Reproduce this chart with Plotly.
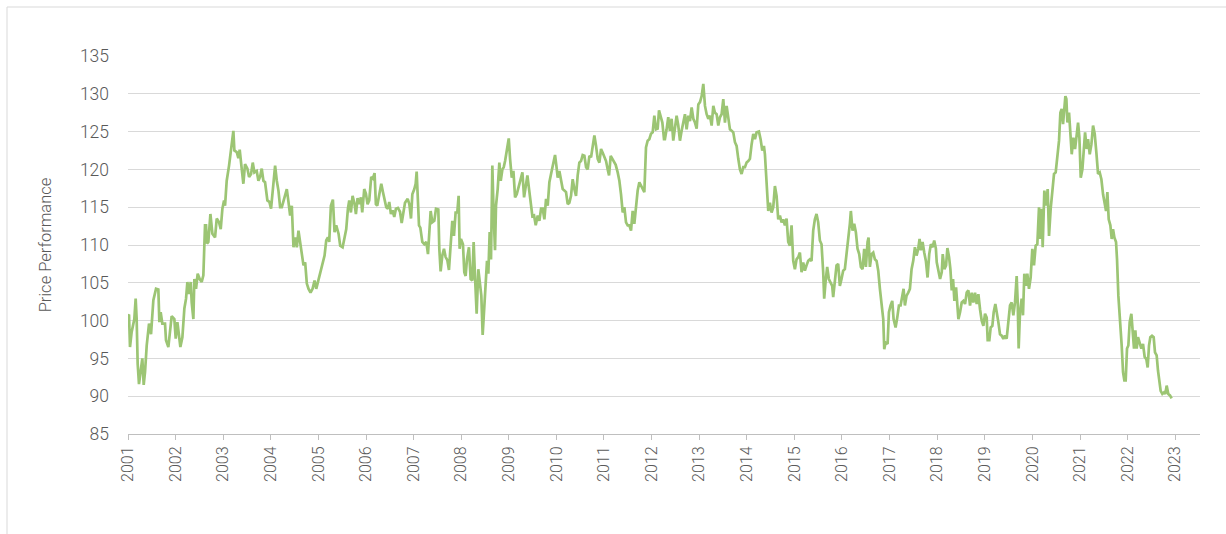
import datetime as dt
import plotly.graph_objects as go

# ---- data (decimal year, price performance) ----
years_a = [2001.000, 2001.021, 2001.042, 2001.077, 2001.133, 2001.161, 2001.182, 2001.203, 2001.231, 2001.266,
           2001.301, 2001.330, 2001.358, 2001.393, 2001.442, 2001.484, 2001.533, 2001.589, 2001.638, 2001.659,
           2001.687, 2001.722, 2001.778, 2001.799, 2001.848, 2001.918, 2001.974, 2002.003, 2002.038, 2002.073,
           2002.101, 2002.143, 2002.185, 2002.220, 2002.248, 2002.283, 2002.318, 2002.339, 2002.374, 2002.395,
           2002.430, 2002.465, 2002.507, 2002.549, 2002.584, 2002.619, 2002.640, 2002.661, 2002.689, 2002.732,
           2002.774, 2002.830, 2002.865, 2002.914, 2002.949, 2002.984, 2003.019, 2003.040, 2003.075, 2003.124,
           2003.166, 2003.215, 2003.236, 2003.285, 2003.320, 2003.348, 2003.390, 2003.425, 2003.460, 2003.510,
           2003.545, 2003.587, 2003.622, 2003.657, 2003.706, 2003.741, 2003.776, 2003.811, 2003.846, 2003.881,
           2003.930, 2003.972, 2004.007, 2004.049, 2004.092, 2004.127, 2004.162, 2004.197, 2004.232, 2004.281,
           2004.337, 2004.372, 2004.407, 2004.442, 2004.477, 2004.512, 2004.547, 2004.582, 2004.617, 2004.652,
           2004.687, 2004.722, 2004.757, 2004.793, 2004.835, 2004.877, 2004.919, 2004.954, 2005.003, 2005.052,
           2005.087, 2005.129, 2005.164, 2005.199, 2005.227, 2005.262, 2005.304, 2005.339, 2005.374, 2005.423,
           2005.458, 2005.508, 2005.550, 2005.585, 2005.620, 2005.648, 2005.683, 2005.718, 2005.760, 2005.788,
           2005.823, 2005.858, 2005.893, 2005.921, 2005.963, 2005.998, 2006.033, 2006.068, 2006.110, 2006.145,
           2006.180, 2006.208, 2006.236, 2006.279, 2006.321, 2006.356, 2006.391, 2006.426, 2006.461, 2006.489,
           2006.524, 2006.559, 2006.594, 2006.629, 2006.671]
values_a = [100.6, 100.8, 96.5, 98.5, 100.2, 102.9, 100.2, 94.3, 91.6, 93.2,
            95.0, 91.5, 93.2, 96.7, 99.6, 98.2, 102.7, 104.2, 104.1, 99.8,
            101.1, 99.6, 99.6, 97.4, 96.5, 100.6, 100.2, 97.6, 99.8, 98.0,
            96.5, 97.8, 101.6, 102.9, 105.1, 103.5, 105.1, 102.4, 100.2, 105.5,
            104.2, 106.2, 105.5, 105.1, 106.0, 112.6, 112.6, 110.2, 110.4, 114.1,
            111.5, 111.0, 113.5, 113.0, 112.1, 114.8, 115.9, 115.2, 118.5, 120.5,
            122.7, 125.1, 122.5, 122.3, 121.5, 122.6, 120.1, 118.1, 120.7, 120.1,
            119.0, 119.4, 120.9, 119.6, 119.8, 118.5, 119.0, 120.1, 118.5, 118.3,
            115.9, 115.7, 114.8, 117.4, 120.5, 118.5, 117.2, 115.0, 115.0, 116.1,
            117.4, 115.7, 113.9, 115.2, 109.7, 111.0, 109.7, 111.9, 110.4, 108.6,
            107.3, 107.7, 104.9, 104.2, 103.7, 104.2, 105.3, 104.2, 105.5, 106.6,
            107.9, 108.6, 110.6, 111.0, 110.4, 115.2, 116.0, 111.7, 112.6, 111.5,
            109.9, 109.7, 111.0, 112.1, 114.8, 115.9, 114.3, 116.5, 115.4, 114.1,
            116.2, 115.4, 116.3, 114.3, 117.4, 116.8, 115.4, 115.9, 119.0, 118.8,
            119.5, 115.4, 115.2, 116.8, 118.1, 117.0, 116.1, 115.0, 114.8, 115.7,
            114.1, 114.6, 113.7, 114.8, 114.9]

years_b = [2006.715, 2006.750, 2006.785, 2006.820, 2006.876, 2006.911, 2006.946, 2006.974, 2007.016, 2007.044,
           2007.065, 2007.086, 2007.114, 2007.142, 2007.184, 2007.226, 2007.268, 2007.303, 2007.331, 2007.359,
           2007.394, 2007.436, 2007.471, 2007.520, 2007.541, 2007.569, 2007.604, 2007.639, 2007.674, 2007.709,
           2007.744, 2007.779, 2007.814, 2007.849, 2007.884, 2007.919, 2007.947, 2007.968, 2007.996, 2008.038,
           2008.066, 2008.094, 2008.122, 2008.164, 2008.199, 2008.234, 2008.262, 2008.290, 2008.325, 2008.360,
           2008.395, 2008.423, 2008.451, 2008.486, 2008.514, 2008.542, 2008.570, 2008.598, 2008.626, 2008.654,
           2008.682, 2008.710, 2008.731, 2008.766, 2008.801, 2008.830, 2008.865, 2008.893, 2008.921, 2008.963,
           2008.998, 2009.026, 2009.061, 2009.096, 2009.131, 2009.166, 2009.215, 2009.257, 2009.285, 2009.320,
           2009.355, 2009.390, 2009.425, 2009.460, 2009.495, 2009.530, 2009.565, 2009.607, 2009.642, 2009.677,
           2009.712, 2009.747, 2009.782, 2009.817, 2009.852, 2009.887, 2009.929, 2009.971, 2009.999, 2010.027,
           2010.062, 2010.097, 2010.132, 2010.167, 2010.202, 2010.237, 2010.272, 2010.307, 2010.342, 2010.377,
           2010.412, 2010.447, 2010.482, 2010.517, 2010.552, 2010.588, 2010.623, 2010.658, 2010.693, 2010.728,
           2010.763, 2010.798, 2010.833, 2010.868, 2010.903, 2010.938, 2010.973, 2011.008, 2011.043, 2011.078,
           2011.106, 2011.141, 2011.176, 2011.211, 2011.246, 2011.288, 2011.323, 2011.358, 2011.393, 2011.428,
           2011.463, 2011.498, 2011.533, 2011.568, 2011.603, 2011.638, 2011.673, 2011.708, 2011.743, 2011.778,
           2011.813, 2011.848, 2011.883, 2011.918, 2011.953, 2011.988, 2012.023, 2012.058, 2012.093, 2012.128,
           2012.156, 2012.191, 2012.226, 2012.261]
values_b = [114.4, 112.9, 114.5, 115.6, 116.1, 115.4, 113.5, 116.7, 117.4, 118.1,
            119.7, 115.4, 112.6, 112.3, 110.4, 110.1, 110.4, 108.8, 111.9, 114.5,
            113.0, 113.2, 114.8, 114.7, 109.5, 106.5, 108.6, 109.5, 108.4, 108.0,
            106.7, 110.4, 113.2, 111.2, 114.3, 114.3, 116.5, 109.5, 110.8, 110.1,
            106.4, 105.9, 108.1, 109.7, 105.5, 105.3, 110.4, 105.9, 100.9, 106.8,
            104.6, 103.3, 98.1, 101.5, 103.7, 107.9, 106.2, 111.7, 108.1, 120.5,
            113.9, 109.3, 115.2, 117.4, 120.9, 118.5, 120.0, 120.3, 121.1, 122.7,
            124.1, 121.4, 118.9, 119.8, 116.3, 116.7, 117.8, 118.9, 119.6, 116.3,
            117.8, 119.2, 117.4, 115.4, 113.8, 113.9, 112.6, 113.9, 113.2, 114.8,
            114.8, 113.4, 116.1, 115.2, 118.3, 119.4, 120.7, 121.9, 120.5, 118.9,
            119.8, 118.7, 117.4, 117.2, 117.0, 115.4, 115.6, 116.5, 118.7, 117.4,
            116.5, 119.2, 120.9, 121.1, 121.9, 121.8, 120.3, 120.0, 121.8, 121.6,
            123.3, 124.5, 123.1, 121.4, 120.9, 122.7, 122.2, 121.6, 121.1, 120.0,
            119.2, 121.8, 121.4, 120.9, 120.6, 119.6, 118.5, 116.7, 114.3, 115.0,
            113.0, 112.6, 112.6, 111.9, 114.5, 112.8, 115.2, 117.2, 118.3, 117.8,
            117.4, 117.0, 122.9, 123.8, 124.0, 124.7, 124.9, 127.1, 125.3, 125.4,
            127.8, 127.1, 126.2, 124.0]

years_c = [2012.280, 2012.315, 2012.350, 2012.385, 2012.420, 2012.455, 2012.490, 2012.525, 2012.560, 2012.595,
           2012.630, 2012.665, 2012.700, 2012.735, 2012.770, 2012.805, 2012.840, 2012.875, 2012.910, 2012.945,
           2012.980, 2013.015, 2013.050, 2013.085, 2013.120, 2013.155, 2013.190, 2013.225, 2013.260, 2013.295,
           2013.330, 2013.365, 2013.400, 2013.435, 2013.470, 2013.505, 2013.540, 2013.575, 2013.610, 2013.645,
           2013.680, 2013.715, 2013.750, 2013.785, 2013.820, 2013.855, 2013.890, 2013.925, 2013.960, 2013.995,
           2014.030, 2014.065, 2014.100, 2014.135, 2014.170, 2014.205, 2014.254, 2014.289, 2014.324, 2014.359,
           2014.380, 2014.415, 2014.450, 2014.485, 2014.520, 2014.555, 2014.590, 2014.625, 2014.660, 2014.695,
           2014.730, 2014.765, 2014.800, 2014.835, 2014.870, 2014.905, 2014.940, 2014.975, 2015.010, 2015.045,
           2015.080, 2015.115, 2015.150, 2015.185, 2015.220, 2015.255, 2015.290, 2015.325, 2015.360, 2015.395,
           2015.430, 2015.465, 2015.500, 2015.535, 2015.570, 2015.605, 2015.626, 2015.654, 2015.689, 2015.724,
           2015.759, 2015.794, 2015.815, 2015.850, 2015.885, 2015.920, 2015.955, 2015.990, 2016.025, 2016.060,
           2016.095, 2016.130, 2016.165, 2016.186, 2016.221, 2016.256, 2016.291, 2016.326, 2016.361, 2016.396,
           2016.431, 2016.466, 2016.501, 2016.536, 2016.557, 2016.585, 2016.620, 2016.655, 2016.690, 2016.725,
           2016.760, 2016.795, 2016.830, 2016.865, 2016.886, 2016.914, 2016.956, 2016.984, 2017.019, 2017.054,
           2017.082, 2017.124, 2017.159, 2017.194, 2017.229, 2017.264, 2017.292, 2017.320, 2017.355, 2017.390,
           2017.425, 2017.460, 2017.495, 2017.530, 2017.565, 2017.600, 2017.628, 2017.656, 2017.691, 2017.726,
           2017.761, 2017.796, 2017.831, 2017.866, 2017.901, 2017.936, 2017.971]
values_c = [124.0, 125.3, 126.9, 125.1, 126.7, 123.8, 125.3, 127.1, 125.8, 123.8,
            125.1, 126.2, 127.3, 125.3, 127.1, 126.4, 128.2, 126.7, 126.2, 125.4,
            128.6, 128.9, 129.7, 131.3, 128.4, 127.3, 126.7, 127.1, 125.8, 128.4,
            127.5, 127.3, 125.8, 126.9, 127.3, 129.3, 126.2, 128.4, 126.9, 125.3,
            125.1, 124.9, 123.6, 123.1, 121.4, 120.0, 119.4, 120.3, 120.3, 120.9,
            121.1, 121.4, 123.3, 124.7, 124.0, 124.9, 125.0, 124.0, 122.5, 123.1,
            122.0, 117.8, 114.5, 115.6, 114.3, 115.0, 117.8, 116.5, 113.4, 113.9,
            113.0, 113.4, 112.6, 113.5, 110.4, 109.9, 112.6, 107.9, 106.8, 108.1,
            108.4, 109.0, 106.4, 107.7, 106.6, 107.3, 107.9, 108.1, 107.9, 111.9,
            113.4, 114.1, 113.0, 110.6, 110.1, 106.4, 102.9, 105.1, 107.1, 105.5,
            105.1, 104.6, 103.1, 105.5, 107.3, 107.5, 104.6, 105.5, 106.6, 106.8,
            108.6, 111.2, 112.8, 114.5, 111.9, 112.8, 111.7, 109.5, 108.8, 107.1,
            106.8, 109.5, 107.1, 110.4, 111.0, 107.1, 108.8, 109.0, 108.1, 107.9,
            106.6, 104.2, 102.4, 100.2, 96.2, 97.1, 96.9, 101.1, 102.0, 102.6,
            100.2, 99.1, 100.4, 102.0, 102.0, 103.3, 104.2, 102.0, 103.3, 103.7,
            104.2, 106.8, 107.9, 109.7, 108.6, 109.5, 110.8, 109.3, 110.4, 109.0,
            107.9, 105.7, 108.8, 110.1, 109.7, 110.6, 109.5]

years_d = [2017.989, 2018.024, 2018.059, 2018.094, 2018.115, 2018.150, 2018.185, 2018.213, 2018.248, 2018.276,
           2018.304, 2018.332, 2018.360, 2018.395, 2018.423, 2018.444, 2018.479, 2018.514, 2018.549, 2018.584,
           2018.619, 2018.654, 2018.689, 2018.724, 2018.759, 2018.794, 2018.829, 2018.864, 2018.899, 2018.934,
           2018.969, 2019.004, 2019.039, 2019.060, 2019.095, 2019.123, 2019.158, 2019.186, 2019.221, 2019.256,
           2019.284, 2019.319, 2019.354, 2019.389, 2019.424, 2019.459, 2019.494, 2019.529, 2019.564, 2019.599,
           2019.634, 2019.669, 2019.690, 2019.711, 2019.739, 2019.774, 2019.802, 2019.830, 2019.865, 2019.893,
           2019.928, 2019.963, 2019.998, 2020.033, 2020.068, 2020.103, 2020.138, 2020.159, 2020.194, 2020.215,
           2020.250, 2020.285, 2020.320, 2020.348, 2020.383, 2020.418, 2020.453, 2020.488, 2020.523, 2020.558,
           2020.586, 2020.614, 2020.642, 2020.670, 2020.691, 2020.712, 2020.733, 2020.768, 2020.796, 2020.824,
           2020.859, 2020.894, 2020.922, 2020.957, 2020.985, 2021.013, 2021.048, 2021.076, 2021.104, 2021.139,
           2021.167, 2021.202, 2021.237, 2021.272, 2021.307, 2021.342, 2021.377, 2021.412, 2021.447, 2021.482,
           2021.517, 2021.545, 2021.573, 2021.601, 2021.636, 2021.664, 2021.692, 2021.720, 2021.755, 2021.776,
           2021.804, 2021.839, 2021.874, 2021.902, 2021.930, 2021.958, 2021.986, 2022.014, 2022.042, 2022.077,
           2022.105, 2022.133, 2022.161, 2022.189, 2022.217, 2022.252, 2022.287, 2022.322, 2022.357, 2022.392,
           2022.420, 2022.448, 2022.476, 2022.511, 2022.546, 2022.574, 2022.609, 2022.637, 2022.665, 2022.693,
           2022.728, 2022.763, 2022.791, 2022.819, 2022.854, 2022.889, 2022.924]
values_d = [107.7, 106.6, 105.5, 106.4, 108.8, 106.8, 107.3, 109.6, 108.4, 106.8,
            104.0, 105.5, 102.6, 104.4, 102.0, 100.2, 101.1, 102.4, 102.6, 102.2,
            103.7, 104.0, 102.0, 103.7, 102.4, 103.7, 102.2, 103.5, 101.5, 100.0,
            99.3, 100.9, 100.4, 97.4, 97.4, 99.1, 99.3, 101.1, 102.2, 101.1,
            99.8, 98.2, 98.0, 97.6, 98.0, 97.6, 99.8, 102.0, 102.4, 100.7,
            102.4, 105.9, 102.6, 96.3, 101.1, 102.9, 100.7, 106.2, 104.6, 106.2,
            104.2, 105.7, 109.5, 107.3, 109.9, 110.1, 115.0, 110.8, 114.8, 109.7,
            117.2, 115.2, 117.4, 111.2, 114.8, 117.4, 119.4, 119.6, 122.2, 123.8,
            127.5, 128.0, 126.0, 127.8, 129.7, 129.3, 126.2, 127.5, 125.3, 122.0,
            124.2, 122.7, 124.2, 126.2, 124.2, 118.9, 120.0, 123.1, 124.9, 122.7,
            124.0, 122.0, 123.3, 125.8, 124.7, 122.2, 119.4, 119.6, 118.7, 116.7,
            115.6, 114.5, 117.0, 113.4, 112.6, 110.8, 112.1, 111.0, 110.4, 108.1,
            103.3, 100.2, 96.7, 93.2, 92.1, 92.1, 96.3, 96.7, 99.8, 100.9,
            98.5, 96.3, 98.7, 96.3, 97.8, 97.1, 96.3, 96.9, 95.2, 94.9,
            93.8, 96.7, 97.8, 98.0, 97.8, 95.8, 95.4, 93.4, 92.1, 90.7,
            90.3, 90.5, 90.3, 91.4, 90.3, 90.1, 89.7]

y_ticks = [85, 90, 95, 100, 105, 110, 115, 120, 125, 130, 135]
x_tick_years = list(range(2001, 2024))
y_title = "Price Performance"

# ---- build series ----
all_years = years_a + years_b + years_c + years_d
all_values = values_a + values_b + values_c + values_d


def to_date(y):
    yr = int(y)
    start = dt.datetime(yr, 1, 1)
    end = dt.datetime(yr + 1, 1, 1)
    return start + (end - start) * (y - yr)


dates = [to_date(y) for y in all_years]

GRID = "#d9d9d9"
TEXT = "#595959"
FONT = "Roboto"

fig = go.Figure()
fig.add_trace(go.Scatter(
    x=dates, y=all_values, mode="lines",
    line=dict(color="#9cc574", width=2.7),
    showlegend=False, hoverinfo="x+y",
))

fig.update_layout(
    width=1226, height=534,
    margin=dict(l=128, r=26, t=56, b=100, autoexpand=False),
    paper_bgcolor="white", plot_bgcolor="white",
    font=dict(family=FONT, color=TEXT, size=16, weight=300),
    showlegend=False,
)

fig.update_xaxes(
    range=[dt.datetime(2001, 1, 1), to_date(2023.52)],
    tickmode="array",
    tickvals=[dt.datetime(y, 1, 1) for y in x_tick_years],
    ticktext=[str(y) for y in x_tick_years],
    tickangle=-90,
    tickfont=dict(family=FONT, size=16, color=TEXT, weight=300),
    ticks="outside", ticklen=5, tickcolor="#bfbfbf", tickwidth=1,
    showline=True, linecolor="#bfbfbf", linewidth=1,
    showgrid=False, zeroline=False,
)

fig.update_yaxes(
    range=[85, 135],
    tickmode="array", tickvals=y_ticks,
    tickfont=dict(family=FONT, size=17.5, color=TEXT, weight=300),
    showgrid=True, gridcolor=GRID, gridwidth=1,
    showline=False, zeroline=False, ticks="",
    ticklabelstandoff=18,
    title=dict(text=y_title, font=dict(family=FONT, size=16.5, color=TEXT, weight=300), standoff=24),
)

# chart frame (thin light border as in the reference)
fig.add_shape(type="rect", xref="paper", yref="paper",
              x0=(7 - 128) / 1072, x1=(1232 - 128) / 1072,
              y0=(434 - 545) / 378, y1=1 + (56 - 7) / 378,
              line=dict(color="#d9d9d9", width=1), fillcolor="rgba(0,0,0,0)", layer="below")

fig.write_html("out.html", config={"displayModeBar": False},
               post_script="document.body.style.margin='0';")
